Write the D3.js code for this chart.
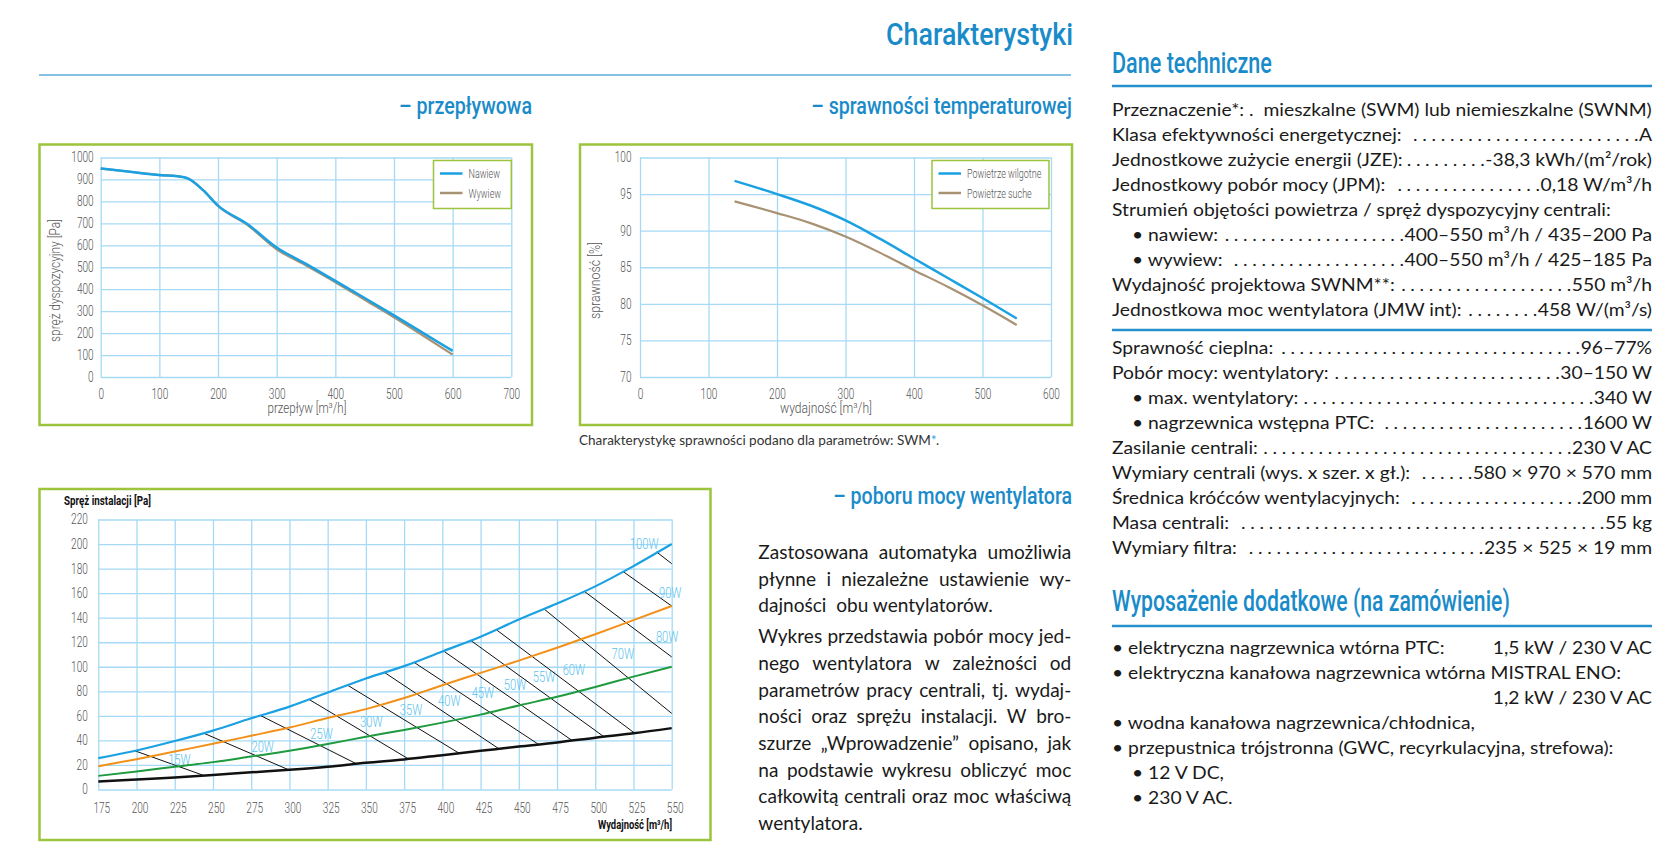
<!DOCTYPE html>
<html lang="pl">
<head>
<meta charset="utf-8">
<title>Charakterystyki</title>
<script src="https://cdn.jsdelivr.net/npm/d3@7/dist/d3.min.js"></script>
<style>
  body { margin: 0; background: #fff; }
  svg { display: block; }
  text { font-family: Roboto, "DejaVu Sans", sans-serif; }
  .head { fill: #1a8bc9; font-weight: 500; }
  .body { font-family: Lato, "Open Sans", sans-serif; fill: #1a1a1a; white-space: pre; }
  .grid line { stroke: #a6daf4; stroke-width: 1.3; }
  .grid path { display: none; }
  .grid text { font-weight: 300; fill: #555; font-size: 14px; }
  .axtitle { font-weight: 300; fill: #555; font-size: 14px; }
</style>
</head>
<body>
<div id="page"></div>
<script>
// przepływowa
const flowX      = [0, 50, 100, 130, 150, 175, 200, 250, 300, 350, 400, 450, 500, 550, 600];
const flowNawiew = [950, 935, 920, 915, 903, 850, 781, 697, 590, 515, 438, 360, 281, 200, 119];
const flowWywiew = [950, 935, 920, 915, 903, 850, 779, 693, 582, 508, 432, 352, 272, 188, 102];
const flowXTicks = [0, 100, 200, 300, 400, 500, 600, 700];
const flowYTicks = [0, 100, 200, 300, 400, 500, 600, 700, 800, 900, 1000];
const flowLegend = ["Nawiew", "Wywiew"];

// sprawność temperaturowa
const effX        = [138, 200, 250, 300, 350, 400, 450, 500, 550];
const effWilgotne = [96.8, 95.0, 93.4, 91.4, 88.9, 86.2, 83.5, 80.8, 78.0];
const effSuche    = [94.0, 92.4, 91.0, 89.2, 87.0, 84.6, 82.3, 79.8, 77.1];
const effXTicks   = [0, 100, 200, 300, 400, 500, 600];
const effYTicks   = [70, 75, 80, 85, 90, 95, 100];
const effLegend   = ["Powietrze wilgotne", "Powietrze suche"];

// pobór mocy wentylatora
const fanX      = [175, 200, 225, 250, 275, 300, 325, 350, 375, 400, 425, 450, 475, 500, 525, 550];
const fanBlue   = [25.5, 31.8, 39.5, 48, 58, 67.5, 79, 90.5, 100.5, 112.5, 124.5, 138.5, 151.5, 165.5, 182, 200];
const fanOrange = [19, 24.7, 31, 37.2, 43.8, 50.5, 58.2, 65.5, 74.5, 85, 95, 105, 115.5, 126.5, 138, 149.5];
const fanGreen  = [11.1, 14.7, 18.5, 22.3, 26.9, 31.5, 37, 43, 48.5, 54.5, 61, 68.5, 75.5, 83.5, 92, 100];
const fanBlack  = [6.5, 8.2, 9.8, 11.8, 14, 16, 18.5, 21.8, 24.5, 28, 31.5, 35, 38.3, 42.2, 45.8, 50];
const fanXTicks = [175, 200, 225, 250, 275, 300, 325, 350, 375, 400, 425, 450, 475, 500, 525, 550];
const fanYTicks = [0, 20, 40, 60, 80, 100, 120, 140, 160, 180, 200, 220];
const powerLabels = ["15W", "20W", "25W", "30W", "35W", "40W", "45W", "50W", "55W", "60W", "70W", "80W", "90W", "100W"];
const powerFrom = [[199, 31.5], [243.7, 46], [280.7, 60.5], [312.7, 73.5], [338, 85], [362, 95.5], [381.6, 103.5],
                   [400.6, 113], [418.5, 121.5], [435.5, 130], [466.6, 147], [492.8, 161.5], [518.3, 177.5], [540.2, 193.5]];
const powerTo   = [[244, 11.4], [299.6, 16], [343.7, 21], [378, 24.8], [411, 29.5], [437, 33.2], [463, 36.7],
                   [485, 39.8], [505.7, 43], [525.8, 45.9], [550, 62], [550, 108], [550, 149.5], [550, 184]];
const powerLabelAt = [[228, 24], [282.5, 34.5], [321, 45], [353.5, 55], [379.5, 65], [404.5, 72], [426.5, 79],
                      [447.5, 85], [466.5, 92], [486, 97], [518, 110], [547, 124], [549, 160], [532, 200]];

// teksty
const techRows1 = [
  ["Przeznaczenie*: .  mieszkalne (SWM) lub niemieszkalne (SWNM)", null, 0],
  ["Klasa efektywności energetycznej:", "A", 0],
  ["Jednostkowe zużycie energii (JZE):", "-38,3 kWh/(m²/rok)", 0],
  ["Jednostkowy pobór mocy (JPM):", "0,18 W/m³/h", 0],
  ["Strumień objętości powietrza / spręż dyspozycyjny centrali:", null, 0],
  ["• nawiew:", "400–550 m³/h / 435–200 Pa", 1],
  ["• wywiew:", "400–550 m³/h / 425–185 Pa", 1],
  ["Wydajność projektowa SWNM**:", "550 m³/h", 0],
  ["Jednostkowa moc wentylatora (JMW int):", "458 W/(m³/s)", 0]
];
const techRows2 = [
  ["Sprawność cieplna:", "96–77%", 0],
  ["Pobór mocy: wentylatory:", "30–150 W", 0],
  ["• max. wentylatory:", "340 W", 1],
  ["• nagrzewnica wstępna PTC:", "1600 W", 1],
  ["Zasilanie centrali:", "230 V AC", 0],
  ["Wymiary centrali (wys. x szer. x gł.):", "580 × 970 × 570 mm", 0],
  ["Średnica króćców wentylacyjnych:", "200 mm", 0],
  ["Masa centrali:", "55 kg", 0],
  ["Wymiary filtra:", "235 × 525 × 19 mm", 0]
];
const extraRows = [
  ["• elektryczna nagrzewnica wtórna PTC:", "1,5 kW / 230 V AC", 0],
  ["• elektryczna kanałowa nagrzewnica wtórna MISTRAL ENO:", null, 0],
  ["", "1,2 kW / 230 V AC", 0],
  ["• wodna kanałowa nagrzewnica/chłodnica,", null, 0],
  ["• przepustnica trójstronna (GWC, recyrkulacyjna, strefowa):", null, 0],
  ["• 12 V DC,", null, 1],
  ["• 230 V AC.", null, 1]
];
const paragraphs = [
  ["Zastosowana automatyka umożliwia", "płynne i niezależne ustawienie wy-", "dajności  obu wentylatorów."],
  ["Wykres przedstawia pobór mocy jed-", "nego wentylatora w zależności od", "parametrów pracy centrali, tj. wydaj-",
   "ności oraz sprężu instalacji. W bro-", "szurze „Wprowadzenie” opisano, jak", "na podstawie wykresu obliczyć moc",
   "całkowitą centrali oraz moc właściwą", "wentylatora."]
];

const GREEN = "#9cc43c";
const svg = d3.select("#page").append("svg").attr("width", 1674).attr("height", 852);
svg.append("rect").attr("width", 1674).attr("height", 852).attr("fill", "#fff");

// text squeezed to a given width (condensed look)
function fitText(parent, str, x, y, width, anchor, cls, size, rotate) {
  const t = parent.append("text").attr("class", cls).attr("text-anchor", anchor)
    .style("font-size", size + "px").text(str);
  const w = t.node().getComputedTextLength();
  t.attr("transform", `translate(${x},${y})${rotate ? " rotate(-90)" : ""} scale(${width / w},1)`);
  return t;
}

// headings
fitText(svg, "Charakterystyki", 1073, 45, 187, "end", "head", 32);
svg.append("line").attr("x1", 39).attr("x2", 1071).attr("y1", 75).attr("y2", 75)
  .attr("stroke", "#84c1e2").attr("stroke-width", 2);
fitText(svg, "– przepływowa", 532, 113.5, 133, "end", "head", 23);
fitText(svg, "– sprawności temperaturowej", 1072, 113.5, 261, "end", "head", 23);
fitText(svg, "– poboru mocy wentylatora", 1072, 504, 239, "end", "head", 23);

function frame(x0, y0, x1, y1) {
  svg.append("rect").attr("x", x0).attr("y", y0).attr("width", x1 - x0).attr("height", y1 - y0)
    .attr("fill", "none").attr("stroke", GREEN).attr("stroke-width", 2.5);
}

function grid(x, y, xTicks, yTicks, xDy, yDx, xShift) {
  const [ya, yb] = y.range(), [xa, xb] = x.range();
  const sx = 0.72;
  const gx = svg.append("g").attr("class", "grid").attr("transform", `translate(0,${ya})`)
    .call(d3.axisBottom(x).tickValues(xTicks).tickSize(-(ya - yb)).tickFormat(d3.format("d")));
  gx.selectAll("text").attr("y", xDy).attr("dy", null).attr("x", (xShift || 0) / sx)
    .attr("transform", `scale(${sx},1)`);
  const gy = svg.append("g").attr("class", "grid").attr("transform", `translate(${xa},0)`)
    .call(d3.axisLeft(y).tickValues(yTicks).tickSize(-(xb - xa)).tickFormat(d3.format("d")));
  gy.selectAll("text").attr("x", -yDx / sx).attr("transform", `scale(${sx},1)`);
}

function legend(x0, y0, x1, y1, names, colors) {
  svg.append("rect").attr("x", x0).attr("y", y0).attr("width", x1 - x0).attr("height", y1 - y0)
    .attr("fill", "#fff").attr("stroke", GREEN).attr("stroke-width", 1.5);
  names.forEach((n, i) => {
    const yy = y0 + 13 + i * 19.5;
    svg.append("line").attr("x1", x0 + 6.5).attr("x2", x0 + 29).attr("y1", yy).attr("y2", yy)
      .attr("stroke", colors[i]).attr("stroke-width", 2.5);
    svg.append("text").attr("class", "axtitle").style("font-size", "12.5px")
      .attr("transform", `translate(${x0 + 35},${yy + 4.5}) scale(0.72,1)`).text(n);
  });
}

// ---- chart 1: przepływowa ----
frame(39.5, 144.5, 532, 425);
const x1 = d3.scaleLinear([0, 700], [100.7, 511.3]);
const y1 = d3.scaleLinear([0, 1000], [377, 157.5]);
grid(x1, y1, flowXTicks, flowYTicks, 22, 7);
const line1 = d3.line().x((d, i) => x1(flowX[i])).y(d => y1(d)).curve(d3.curveMonotoneX);
svg.append("path").attr("d", line1(flowWywiew)).attr("fill", "none").attr("stroke", "#a89274").attr("stroke-width", 2.2);
svg.append("path").attr("d", line1(flowNawiew)).attr("fill", "none").attr("stroke", "#1ba1e2").attr("stroke-width", 2.5);
legend(433.5, 160.5, 511.3, 208.5, flowLegend, ["#1ba1e2", "#a89274"]);
fitText(svg, "przepływ [m³/h]", 307, 413, 79, "middle", "axtitle", 14);
fitText(svg, "spręż dyspozycyjny  [Pa]", 60, 280.5, 123, "middle", "axtitle", 14, true);

// ---- chart 2: sprawność ----
frame(580, 144.5, 1072, 425);
const x2 = d3.scaleLinear([0, 600], [640, 1051]);
const y2 = d3.scaleLinear([70, 100], [377, 157.5]);
grid(x2, y2, effXTicks, effYTicks, 22, 8.5);
const line2 = d3.line().x((d, i) => x2(effX[i])).y(d => y2(d)).curve(d3.curveMonotoneX);
svg.append("path").attr("d", line2(effSuche)).attr("fill", "none").attr("stroke", "#a89274").attr("stroke-width", 2.2);
svg.append("path").attr("d", line2(effWilgotne)).attr("fill", "none").attr("stroke", "#1ba1e2").attr("stroke-width", 2.5);
legend(932, 160.5, 1049, 208.5, effLegend, ["#1ba1e2", "#a89274"]);
fitText(svg, "wydajność  [m³/h]", 826, 413, 92, "middle", "axtitle", 14);
fitText(svg, "sprawność  [%]", 600, 280.5, 77, "middle", "axtitle", 14, true);

const note = fitText(svg, "Charakterystykę sprawności podano dla parametrów: SWM", 579, 445, 352, "start", "body", 13);
note.style("fill", "#333");
svg.append("text").attr("class", "body").style("font-size", "13px").style("fill", "#1ba1e2")
  .attr("x", 931).attr("y", 445).text("*");
svg.append("text").attr("class", "body").style("font-size", "13px").style("fill", "#333")
  .attr("x", 936).attr("y", 445).text(".");

// ---- chart 3: pobór mocy ----
frame(39.5, 489, 710.5, 840);
const x3 = d3.scaleLinear([175, 550], [98.3, 671.7]);
const y3 = d3.scaleLinear([0, 220], [789.5, 519.5]);
grid(x3, y3, fanXTicks, fanYTicks, 23.5, 10.5, 3);
const line3 = d3.line().x((d, i) => x3(fanX[i])).y(d => y3(d)).curve(d3.curveMonotoneX);
powerLabels.forEach((lab, i) => {
  svg.append("line")
    .attr("x1", x3(powerFrom[i][0])).attr("y1", y3(powerFrom[i][1]))
    .attr("x2", x3(powerTo[i][0])).attr("y2", y3(powerTo[i][1]))
    .attr("stroke", "#111").attr("stroke-width", 1);
  svg.append("text").attr("text-anchor", "middle").attr("dominant-baseline", "central")
    .style("font-size", "14px").style("font-weight", 300).style("fill", "#5cc3ee")
    .attr("transform", `translate(${x3(powerLabelAt[i][0])},${y3(powerLabelAt[i][1])}) scale(0.8,1)`)
    .text(lab);
});
[[fanGreen, "#1f9a3e", 2], [fanOrange, "#f39019", 2], [fanBlue, "#1ba1e2", 2.2], [fanBlack, "#111", 2.5]]
  .forEach(([s, c, w]) => {
    svg.append("path").attr("d", line3(s)).attr("fill", "none").attr("stroke", c).attr("stroke-width", w);
  });
fitText(svg, "Spręż instalacji [Pa]", 64, 505, 83, "start", "axtitle", 13).style("font-weight", 700).style("fill", "#111");
fitText(svg, "Wydajność [m³/h]", 672, 829, 73, "end", "axtitle", 13).style("font-weight", 700).style("fill", "#111");

// ---- paragraph (justified) ----
const para = svg.append("g");
const FS = "18.5px";
function natural(str) {
  const t = para.append("text").attr("class", "body").style("font-size", FS).text(str);
  const w = t.node().getComputedTextLength();
  t.remove();
  return w;
}
const paraW = 313;
let psx = 245 / natural(paragraphs[0][2]);
paragraphs.forEach(lines => lines.slice(0, -1).forEach(ln => {
  const words = ln.split(" ");
  const need = d3.sum(words, natural) + (words.length - 1) * 5;
  psx = Math.min(psx, paraW / need);
}));
para.attr("transform", `translate(758.3,0) scale(${psx},1)`);
const innerW = paraW / psx;
const paraBase = [[559, 585.7, 612.3], [643.3, 670, 696.7, 723.3, 750, 776.7, 803.3, 830]];
paragraphs.forEach((lines, p) => {
  lines.forEach((ln, i) => {
    const yb = paraBase[p][i];
    if (i === lines.length - 1) {
      para.append("text").attr("class", "body").style("font-size", FS).attr("x", 0).attr("y", yb).text(ln);
      return;
    }
    const words = ln.split(" ");
    const ts = words.map(w => para.append("text").attr("class", "body").style("font-size", FS).attr("y", yb).text(w));
    const ws = ts.map(t => t.node().getComputedTextLength());
    const gap = (innerW - d3.sum(ws)) / (words.length - 1);
    let xx = 0;
    ts.forEach((t, k) => { t.attr("x", xx); xx += ws[k] + gap; });
  });
});

// ---- right column ----
const CL = 1112, CR = 1652;
fitText(svg, "Dane techniczne", CL, 72.5, 160, "start", "head", 30);
fitText(svg, "Wyposażenie dodatkowe (na zamówienie)", CL, 611, 398, "start", "head", 30);
[86, 330, 626].forEach(yy => {
  svg.append("line").attr("x1", CL).attr("x2", CR).attr("y1", yy).attr("y2", yy)
    .attr("stroke", "#2590cc").attr("stroke-width", 2.5);
});

const col = svg.append("g");
const cprobe = col.append("text").attr("class", "body").style("font-size", "18px").text(techRows1[0][0]);
const csx = (CR - CL) / cprobe.node().getComputedTextLength();
cprobe.remove();
col.attr("transform", `translate(${CL},0) scale(${csx},1)`);
const colW = (CR - CL) / csx, indent = 20 / csx, dotStep = 9.2 / csx;

function rows(data, y0, leaders) {
  data.forEach(([label, value, level], i) => {
    const yb = y0 + i * 25;
    const x0 = level ? indent : 0;
    const t = col.append("text").attr("class", "body").style("font-size", "18px").attr("x", x0).attr("y", yb).text(label);
    if (value == null) return;
    const v = col.append("text").attr("class", "body").style("font-size", "18px")
      .attr("x", colW).attr("y", yb).attr("text-anchor", "end").text(value);
    if (!leaders) return;
    const lw = t.node().getComputedTextLength(), vw = v.node().getComputedTextLength();
    const d = col.append("text").attr("class", "body").style("font-size", "18px").attr("y", yb).text(".");
    const pw = d.node().getComputedTextLength();
    const xs = [];
    for (let xx = colW - vw - pw - 0.5 / csx; xx >= x0 + lw + 3.5 / csx; xx -= dotStep) xs.unshift(xx.toFixed(2));
    d.attr("x", xs.join(" ")).text(".".repeat(xs.length));
  });
}
rows(techRows1, 116.5, true);
rows(techRows2, 354.5, true);
rows(extraRows, 654.5, false);
</script>
</body>
</html>
